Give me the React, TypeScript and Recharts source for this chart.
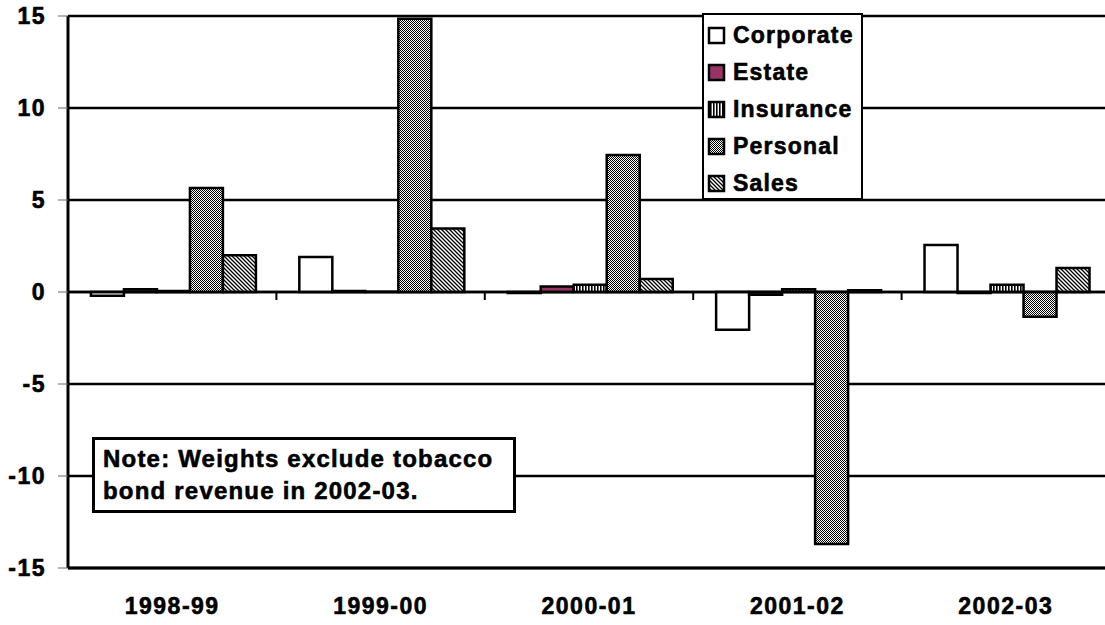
import React from 'react';
import { BarChart, Bar, XAxis, YAxis, CartesianGrid, Legend, ReferenceLine } from 'recharts';

const years = ['1998-99', '1999-00', '2000-01', '2001-02', '2002-03'];
const corporate = [-0.2, 1.9, -0.05, -2.05, 2.55];
const estate = [0.15, 0.05, 0.3, -0.15, -0.05];
const insurance = [0.05, 0.02, 0.4, 0.15, 0.4];
const personal = [5.65, 14.85, 7.45, -13.7, -1.35];
const sales = [2.0, 3.45, 0.7, 0.1, 1.3];
const yTicks = [-15, -10, -5, 0, 5, 10, 15];
const noteLines = ['Note: Weights exclude tobacco', 'bond revenue in 2002-03.'];

const data = years.map((year, i) => ({
  year,
  Corporate: corporate[i],
  Estate: estate[i],
  Insurance: insurance[i],
  Personal: personal[i],
  Sales: sales[i],
}));

const FONT = '"Liberation Sans", Arial, sans-serif';
const tickText = {
  fill: '#000', stroke: '#000', strokeWidth: 0.6, fontSize: 23, fontWeight: 'bold',
  fontFamily: FONT, letterSpacing: 1.5,
};

// zero line with the little downward ticks between the year groups
const ZeroLine = (props: any) => {
  const { x1, x2, y1 } = props;
  const cw = (x2 - x1) / years.length;
  return (
    <g>
      <line x1={x1} x2={x2} y1={y1} y2={y1} stroke="#000" strokeWidth={2.5} />
      {years.slice(1).map((_, i) => (
        <line key={i} x1={x1 + (i + 1) * cw} x2={x1 + (i + 1) * cw} y1={y1} y2={y1 + 8} stroke="#000" strokeWidth={2} />
      ))}
    </g>
  );
};

const LegendBox = ({ payload }: any) => (
  <div style={{ border: '2.5px solid #000', background: '#fff', width: 157, height: 181, boxSizing: 'content-box', paddingTop: 2 }}>
    {(payload || []).map((p: any) => (
      <div key={p.value} style={{ display: 'flex', alignItems: 'center', height: 37, paddingLeft: 3 }}>
        <svg width={20} height={20} style={{ marginRight: 6 }}>
          <rect x={2} y={2} width={15} height={15} fill={p.color} stroke="#000" strokeWidth={2.5} />
        </svg>
        <span style={{ fontFamily: FONT, fontWeight: 'bold', fontSize: 23, letterSpacing: 1.2, color: '#000', WebkitTextStroke: '0.6px #000' }}>{p.value}</span>
      </div>
    ))}
  </div>
);

export default function App() {
  return (
    <div style={{ position: 'absolute', left: 0, top: 0, width: 1105, height: 625, overflow: 'hidden', background: '#fff' }}>
      <BarChart
        width={1115}
        height={625}
        data={data}
        margin={{ top: 16, right: 5, left: 0, bottom: 0 }}
        barCategoryGap="11%"
        barGap={0}
      >
        <defs>
          <pattern id="pInsurance" patternUnits="userSpaceOnUse" width="3" height="3">
            <rect width="3" height="3" fill="#fff" />
            <rect width="1.6" height="3" fill="#000" />
          </pattern>
          <pattern id="pPersonal" patternUnits="userSpaceOnUse" width="2" height="2">
            <rect width="2" height="2" fill="#fff" />
            <rect width="1" height="1" fill="#000" />
            <rect x="1" y="1" width="1" height="1" fill="#000" />
          </pattern>
          <pattern id="pSales" patternUnits="userSpaceOnUse" width="4" height="4">
            <rect width="4" height="4" fill="#fff" />
            <path d="M0,0 L4,4 M-1,3 L1,5 M3,-1 L5,1" stroke="#000" strokeWidth="1.3" />
          </pattern>
        </defs>
        <CartesianGrid vertical={false} stroke="#000" strokeWidth={2.5} />
        <XAxis
          dataKey="year"
          height={57}
          tickLine={false}
          tickMargin={24}
          axisLine={{ stroke: '#000', strokeWidth: 3 }}
          tick={tickText}
        />
        <YAxis
          width={68}
          domain={[-15, 15]}
          ticks={yTicks}
          interval={0}
          tickSize={10}
          tickMargin={12}
          tickLine={{ stroke: '#666', strokeWidth: 1 }}
          axisLine={{ stroke: '#000', strokeWidth: 3 }}
          tick={tickText}
        />
        <ReferenceLine y={0} shape={ZeroLine} />
        <Legend
          layout="vertical"
          align="center"
          verticalAlign="middle"
          content={<LegendBox />}
          wrapperStyle={{ left: 702, top: 13, width: 162 }}
        />
        <Bar dataKey="Corporate" fill="#fff" stroke="#000" strokeWidth={2.5} isAnimationActive={false} />
        <Bar dataKey="Estate" fill="#993366" stroke="#000" strokeWidth={2.5} isAnimationActive={false} />
        <Bar dataKey="Insurance" fill="url(#pInsurance)" stroke="#000" strokeWidth={2.5} isAnimationActive={false} />
        <Bar dataKey="Personal" fill="url(#pPersonal)" stroke="#000" strokeWidth={2.5} isAnimationActive={false} />
        <Bar dataKey="Sales" fill="url(#pSales)" stroke="#000" strokeWidth={2.5} isAnimationActive={false} />
      </BarChart>
      <div
        style={{
          position: 'absolute', left: 92, top: 437, width: 424, height: 76,
          border: '3px solid #000', background: '#fff', padding: '3px 0 0 8px', boxSizing: 'border-box',
          fontFamily: FONT, fontWeight: 'bold', fontSize: 24, lineHeight: '32px', letterSpacing: 1.2,
          color: '#000', whiteSpace: 'nowrap', WebkitTextStroke: '0.6px #000',
        }}
      >
        {noteLines.map((l) => (
          <div key={l}>{l}</div>
        ))}
      </div>
    </div>
  );
}
